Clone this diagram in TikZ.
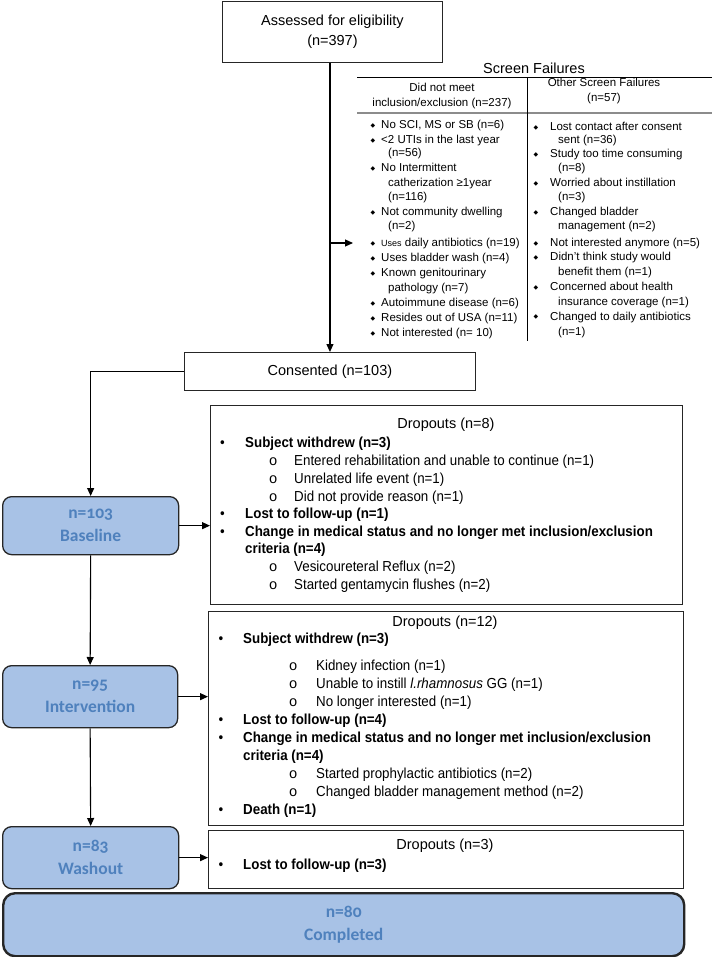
\documentclass[tikz,border=0pt]{standalone}
\usepackage{fontspec}
\setmainfont{Liberation Sans}
\setmonofont{Liberation Mono}
\newfontfamily\narrowfont{Liberation Sans}[FakeStretch=0.92]
\newfontfamily\bluefont{Carlito}[Numbers=OldStyle]
\newfontfamily\symfont{DejaVu Sans}
\usetikzlibrary{arrows.meta,calc}
\newcommand\fsz[2]{\fontsize{#1}{#2}\selectfont}
\definecolor{bfill}{RGB}{168,194,230}
\definecolor{btext}{RGB}{79,129,189}
\newcommand\dmd[1]{\makebox[#1][l]{\raisebox{1.2pt}{\symfont\fsz{6}{6}◆}}}
\newcommand\bl[1]{\makebox[#1][l]{•}}
\newcommand\sbl[1]{\makebox[#1][l]{\ttfamily o}}
\tikzset{
  sqbox/.style={draw=black!85, line width=0.9pt, inner sep=0pt, anchor=north west},
  bluebox/.style={draw=black!85, line width=1.3pt, rounded corners=9pt, fill=bfill,
    inner sep=0pt, anchor=north west, align=center, text=btext,
    font=\bluefont\bfseries\fsz{17.5}{23}},
  arr/.style={line width=1.1pt, -{Triangle[length=8pt,width=7pt]}},
  sft/.style={anchor=base west, inner sep=0pt, font=\fsz{11.5}{15}},
  dtxt/.style={anchor=base west, inner sep=0pt, font=\narrowfont\fsz{14.5}{18}},
  dtitle/.style={inner sep=0pt, font=\fsz{14.5}{17}},
}
\begin{document}
\begin{tikzpicture}[x=1pt,y=-1pt]
\useasboundingbox (0,0) rectangle (712,957);
\fill[white] (0,0) rectangle (712,957);

% top box
\node[sqbox, minimum width=220pt, minimum height=61pt, align=center,
  font=\fsz{14.5}{20}] (assess) at (222,1) {Assessed for eligibility\\(n=397)};

% screen failures
\node[dtitle] (sftitle) at (534,68) {Screen Failures};
\draw[line width=0.8pt] (357,77) -- (712,77);
\draw[black!45, line width=1.2pt] (357,113) -- (712,113);
\draw[line width=0.8pt] (527,77) -- (527,341);
\node[inner sep=0pt, align=center, font=\fsz{11.5}{15}] (h1) at (442,96) {Did not meet\\inclusion/exclusion (n=237)};
\node[inner sep=0pt, align=center, font=\fsz{11.5}{15}] (h2) at (604,91) {Other Screen Failures\\(n=57)};

% left list
\node[sft] (l0) at (370.3,129) {\dmd{10.7pt}No SCI, MS or SB (n=6)};
\node[sft] (l1) at (370.3,143.5) {\dmd{10.7pt}<2 UTIs in the last year};
\node[sft] (l2) at (388,157) {(n=56)};
\node[sft] (l3) at (370.3,172) {\dmd{10.7pt}No Intermittent};
\node[sft] (l4) at (388,186.5) {catherization ≥1year};
\node[sft] (l5) at (388,201) {(n=116)};
\node[sft] (l6) at (370.3,215.5) {\dmd{10.7pt}Not community dwelling};
\node[sft] (l7) at (388,230) {(n=2)};
\node[sft] (l8) at (370.3,247) {\dmd{10.7pt}{\fsz{9}{15}Uses} daily antibiotics (n=19)};
\node[sft] (l9) at (370.3,261.5) {\dmd{10.7pt}Uses bladder wash (n=4)};
\node[sft] (l10) at (370.3,276.5) {\dmd{10.7pt}Known genitourinary};
\node[sft] (l11) at (388,291.5) {pathology (n=7)};
\node[sft] (l12) at (370.3,306.5) {\dmd{10.7pt}Autoimmune disease (n=6)};
\node[sft] (l13) at (370.3,321.5) {\dmd{10.7pt}Resides out of USA (n=11)};
\node[sft] (l14) at (370.3,336.5) {\dmd{10.7pt}Not interested (n= 10)};

% right list
\node[sft] (r0) at (533.3,130.5) {\dmd{16.7pt}Lost contact after consent};
\node[sft] (r1) at (558,144) {sent (n=36)};
\node[sft] (r2) at (533.3,158) {\dmd{16.7pt}Study too time consuming};
\node[sft] (r3) at (558,172) {(n=8)};
\node[sft] (r4) at (533.3,186.5) {\dmd{16.7pt}Worried about instillation};
\node[sft] (r5) at (558,201) {(n=3)};
\node[sft] (r6) at (533.3,215.5) {\dmd{16.7pt}Changed bladder};
\node[sft] (r7) at (558,230) {management (n=2)};
\node[sft] (r8) at (533.3,247) {\dmd{16.7pt}Not interested anymore (n=5)};
\node[sft] (r9) at (533.3,261) {\dmd{16.7pt}Didn’t think study would};
\node[sft] (r10) at (558,275.5) {benefit them (n=1)};
\node[sft] (r11) at (533.3,290.5) {\dmd{16.7pt}Concerned about health};
\node[sft] (r12) at (558,305.5) {insurance coverage (n=1)};
\node[sft] (r13) at (533.3,320) {\dmd{16.7pt}Changed to daily antibiotics};
\node[sft] (r14) at (558,335) {(n=1)};

\coordinate (sfin) at (353,243);

% consented
\node[sqbox, minimum width=291pt, minimum height=38pt, font=\fsz{14.5}{17}] (consent) at (184,352) {Consented (n=103)};

% stage boxes
\node[bluebox, minimum width=176pt, minimum height=58pt] (baseline) at (2,496) {n=103\\Baseline};
\node[bluebox, minimum width=175pt, minimum height=62pt] (interv) at (2,665) {n=95\\Intervention};
\node[bluebox, minimum width=176pt, minimum height=62pt] (washout) at (2,826) {n=83\\Washout};
\node[bluebox, line width=2.4pt, rounded corners=12pt, minimum width=681pt, minimum height=63pt] (completed) at (2,892) {n=80\\Completed};

% dropouts boxes
\node[sqbox, minimum width=472pt, minimum height=199pt] (dropA) at (210,405) {};
\node[sqbox, minimum width=475pt, minimum height=214pt] (dropB) at (208,611) {};
\node[sqbox, minimum width=475pt, minimum height=58pt] (dropC) at (208,830) {};

% dropouts n=8
\node[dtitle] (ta) at (446,425) {Dropouts (n=8)};
\node[dtxt] (a1) at (220,447.8) {\bl{25pt}\textbf{Subject withdrew (n=3)}};
\node[dtxt] (a2) at (268.6,465.8) {\sbl{25.4pt}Entered rehabilitation and unable to continue (n=1)};
\node[dtxt] (a3) at (268.6,483.3) {\sbl{25.4pt}Unrelated life event (n=1)};
\node[dtxt] (a4) at (268.6,501.3) {\sbl{25.4pt}Did not provide reason (n=1)};
\node[dtxt] (a5) at (220,518.8) {\bl{25pt}\textbf{Lost to follow-up (n=1)}};
\node[dtxt] (a6) at (220,536.3) {\bl{25pt}\textbf{Change in medical status and no longer met inclusion/exclusion}};
\node[dtxt] (a7) at (245,553.8) {\textbf{criteria (n=4)}};
\node[dtxt] (a8) at (268.6,571.8) {\sbl{25.4pt}Vesicoureteral Reflux (n=2)};
\node[dtxt] (a9) at (268.6,589.8) {\sbl{25.4pt}Started gentamycin flushes (n=2)};

% dropouts n=12
\node[dtitle] (tb) at (445,623) {Dropouts (n=12)};
\node[dtxt] (b1) at (218.5,643.8) {\bl{24.5pt}\textbf{Subject withdrew (n=3)}};
\node[dtxt] (b2) at (288.6,670.8) {\sbl{27.4pt}Kidney infection (n=1)};
\node[dtxt] (b3) at (288.6,688.8) {\sbl{27.4pt}Unable to instill \textit{l.rhamnosus} GG (n=1)};
\node[dtxt] (b4) at (288.6,706.8) {\sbl{27.4pt}No longer interested (n=1)};
\node[dtxt] (b5) at (218.5,724.8) {\bl{24.5pt}\textbf{Lost to follow-up (n=4)}};
\node[dtxt] (b6) at (218.5,742.8) {\bl{24.5pt}\textbf{Change in medical status and no longer met inclusion/exclusion}};
\node[dtxt] (b7) at (243,760.8) {\textbf{criteria (n=4)}};
\node[dtxt] (b8) at (288.6,778.8) {\sbl{27.4pt}Started prophylactic antibiotics (n=2)};
\node[dtxt] (b9) at (288.6,796.8) {\sbl{27.4pt}Changed bladder management method (n=2)};
\node[dtxt] (b10) at (218.5,814.8) {\bl{24.5pt}\textbf{Death (n=1)}};

% dropouts n=3
\node[dtitle] (tc) at (445,846) {Dropouts (n=3)};
\node[dtxt] (c1) at (218.5,869.8) {\bl{24.5pt}\textbf{Lost to follow-up (n=3)}};

% connectors
\draw[arr] (assess.south -| consent.north) -- (consent.north);
\draw[arr] (sfin -| consent.north) -- (sfin);
\draw[arr] (consent.west) -| (baseline.north);
\draw[arr] (baseline.east) -- (baseline.east -| dropA.west);
\draw[arr] (baseline.south) -- (interv.north);
\draw[arr] (interv.east) -- (interv.east -| dropB.west);
\draw[arr] (interv.south) -- (washout.north);
\draw[arr] (washout.east) -- (washout.east -| dropC.west);
\end{tikzpicture}
\end{document}
